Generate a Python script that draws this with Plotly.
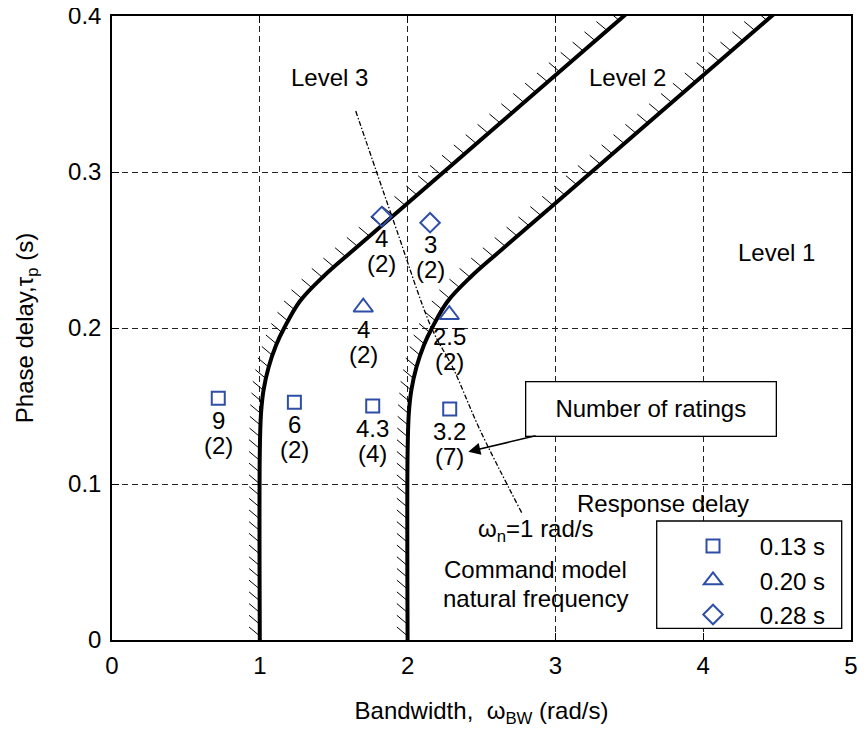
import numpy as np
import plotly.graph_objects as go

# ---------------- data ----------------
# Level 3 / Level 2 boundary
bw_l3 = [1.0, 1.0, 1.008, 1.025, 1.06, 1.11, 1.165, 1.27, 1.43, 1.63, 2.0, 2.5, 3.0, 3.5]
tau_l3 = [0.0, 0.12, 0.145, 0.160, 0.175, 0.189, 0.200, 0.217, 0.233, 0.2497, 0.280, 0.321, 0.362, 0.403]
# Level 2 / Level 1 boundary
bw_l2 = [2.0, 2.0, 2.008, 2.025, 2.06, 2.11, 2.165, 2.27, 2.43, 2.63, 3.0, 3.5, 4.0, 4.5]
tau_l2 = [0.0, 0.12, 0.145, 0.160, 0.175, 0.189, 0.200, 0.217, 0.233, 0.2497, 0.280, 0.321, 0.362, 0.403]
# command model natural frequency line (wn = 1 rad/s)
wn_bw = [1.649, 1.791, 1.926, 2.163, 2.307, 2.490, 2.772]
wn_tau = [0.3391, 0.2998, 0.2628, 0.1998, 0.1744, 0.1346, 0.0816]

# response delay 0.13 s
sq_bw = [0.719, 1.234, 1.764, 2.285]
sq_tau = [0.155, 0.1524, 0.150, 0.148]
sq_rating = ["9", "6", "4.3", "3.2"]
sq_count = ["(2)", "(2)", "(4)", "(7)"]
# response delay 0.20 s
tr_bw = [1.700, 2.282]
tr_tau = [0.2133, 0.2085]
tr_rating = ["4", "2.5"]
tr_count = ["(2)", "(2)"]
# response delay 0.28 s
di_bw = [1.825, 2.152]
di_tau = [0.2714, 0.2675]
di_rating = ["4", "3"]
di_count = ["(2)", "(2)"]

x_ticks = [0, 1, 2, 3, 4, 5]
y_ticks = [0, 0.1, 0.2, 0.3, 0.4]
y_ticktext = ["0", "0.1", "0.2", "0.3", "0.4"]

# ---------------- layout constants ----------------
OFF = 8  # page body margin
W, H = 865, 732
PL, PR, PT, PB = 112, 851, 16, 640          # plot area in screen pixels
ML, MT = PL - OFF, PT - OFF
MR, MB = W - (PR - OFF), H - (PB - OFF)
PW, PH = PR - PL, PB - PT
XR = [0, 5]
YR = [0, 0.4]
SX = PW / (XR[1] - XR[0])
SY = PH / (YR[1] - YR[0])
FONT = "Liberation Sans, Arial, sans-serif"
FS = 24
BLUE = "#2F4EA8"


def hatch(xs, ys, spacing=11.7, length=14.0, angle_deg=140.0, kx=0.47, start=4.0):
    px = np.asarray(xs, float) * SX
    py = np.asarray(ys, float) * SY
    seg = np.sqrt((np.diff(px) * kx) ** 2 + np.diff(py) ** 2)
    s = np.concatenate([[0.0], np.cumsum(seg)])
    t = np.arange(start, s[-1], spacing)
    hx = np.interp(t, s, px)
    hy = np.interp(t, s, py)
    a = np.deg2rad(angle_deg)
    ex = hx + length * np.cos(a)
    ey = hy + length * np.sin(a)
    X, Y = [], []
    for x0, y0, x1, y1 in zip(hx, hy, ex, ey):
        X += [x0 / SX, x1 / SX, None]
        Y += [y0 / SY, y1 / SY, None]
    return X, Y


fig = go.Figure()

for bx, by in [(bw_l3, tau_l3), (bw_l2, tau_l2)]:
    hx, hy = hatch(bx, by)
    fig.add_trace(go.Scatter(x=hx, y=hy, mode="lines", line=dict(color="black", width=1),
                             showlegend=False, hoverinfo="skip"))
    fig.add_trace(go.Scatter(x=bx, y=by, mode="lines", line=dict(color="black", width=4, shape="spline"),
                             showlegend=False, hoverinfo="skip"))

fig.add_trace(go.Scatter(x=wn_bw, y=wn_tau, mode="lines",
                         line=dict(color="black", width=1.3, dash="5px,2px,1.5px,2px", shape="spline"),
                         showlegend=False, hoverinfo="skip"))

NB = "\u00a0"
fig.add_trace(go.Scatter(x=sq_bw, y=sq_tau, mode="markers", name=NB * 4 + "0.13 s",
                         marker=dict(symbol="square-open", size=13, color=BLUE, line=dict(width=2, color=BLUE))))
fig.add_trace(go.Scatter(x=tr_bw, y=tr_tau, mode="markers", name=NB * 4 + "0.20 s",
                         marker=dict(symbol="triangle-up-open", size=17, color=BLUE, line=dict(width=2, color=BLUE))))
fig.add_trace(go.Scatter(x=di_bw, y=di_tau, mode="markers", name=NB * 4 + "0.28 s",
                         marker=dict(symbol="diamond-open", size=15, color=BLUE, line=dict(width=2, color=BLUE))))

tfont = dict(size=FS, color="black", family=FONT)
annotations = []
for bws, taus, rats, cnts in [(sq_bw, sq_tau, sq_rating, sq_count),
                              (tr_bw, tr_tau, tr_rating, tr_count),
                              (di_bw, di_tau, di_rating, di_count)]:
    for b, t, r, c in zip(bws, taus, rats, cnts):
        annotations.append(dict(x=b, y=t, text=r, showarrow=False, yshift=-22, yanchor="middle", font=tfont))
        annotations.append(dict(x=b, y=t, text=c, showarrow=False, yshift=-47, yanchor="middle", font=tfont))

for txt, xx, yy in [("Level 3", 1.473, 0.3603), ("Level 2", 3.49, 0.3603), ("Level 1", 4.496, 0.2487)]:
    annotations.append(dict(x=xx, y=yy, text=txt, showarrow=False, font=tfont))

for txt, yy in [("ω<sub>n</sub>=1 rad/s", 0.0705), ("Command model", 0.0455), ("natural frequency", 0.0265)]:
    annotations.append(dict(x=2.865, y=yy, text=txt, showarrow=False, font=tfont))

annotations.append(dict(x=2.411, y=0.1207, ax=3.65, ay=0.1484, axref="x", ayref="y",
                        text="Number of ratings", showarrow=True, arrowhead=2, arrowsize=1.6,
                        arrowwidth=1.5, arrowcolor="black", bordercolor="black", borderwidth=1.3,
                        bgcolor="white", width=241, height=45, borderpad=4, font=tfont))

annotations.append(dict(xref="paper", yref="paper", x=(751 - PL) / PW, y=(PB - 503) / PH,
                        text="Response delay", showarrow=False, yanchor="middle", font=tfont))

shapes = [dict(type="rect", xref="paper", yref="paper",
               x0=(656.7 - PL) / PW, x1=(841.7 - PL) / PW,
               y0=(PB - 628.3) / PH, y1=(PB - 521) / PH,
               line=dict(color="black", width=1.3), fillcolor="white", layer="above")]

axis_common = dict(showline=True, linecolor="black", linewidth=1.5, mirror="ticks",
                   ticks="inside", ticklen=7, tickcolor="black", tickwidth=1,
                   showgrid=True, gridcolor="#222222", gridwidth=1, griddash="6px,4px",
                   zeroline=False, automargin=False, tickfont=tfont, ticklabeloverflow="allow")

fig.update_layout(
    width=W, height=H,
    margin=dict(l=ML, r=MR, t=MT, b=MB, autoexpand=False),
    paper_bgcolor="white", plot_bgcolor="white",
    font=dict(family=FONT, size=FS, color="black"),
    xaxis=dict(range=XR, tickvals=x_ticks, ticktext=[str(v) for v in x_ticks], ticklabelstandoff=3,
               title=dict(text="Bandwidth,  ω<sub>BW</sub> (rad/s)", standoff=25, font=tfont), **axis_common),
    yaxis=dict(range=YR, tickvals=y_ticks, ticktext=y_ticktext, ticklabelstandoff=4,
               title=dict(text="Phase delay,τ<sub>p</sub> (s)", standoff=28, font=tfont), **axis_common),
    showlegend=True,
    legend=dict(x=(693 - PL) / PW, y=(PB - 524) / PH, xanchor="left", yanchor="top",
                bgcolor="rgba(0,0,0,0)", borderwidth=0, font=tfont, tracegroupgap=0),
    annotations=annotations,
    shapes=shapes,
)

fig.write_html("out.html")
